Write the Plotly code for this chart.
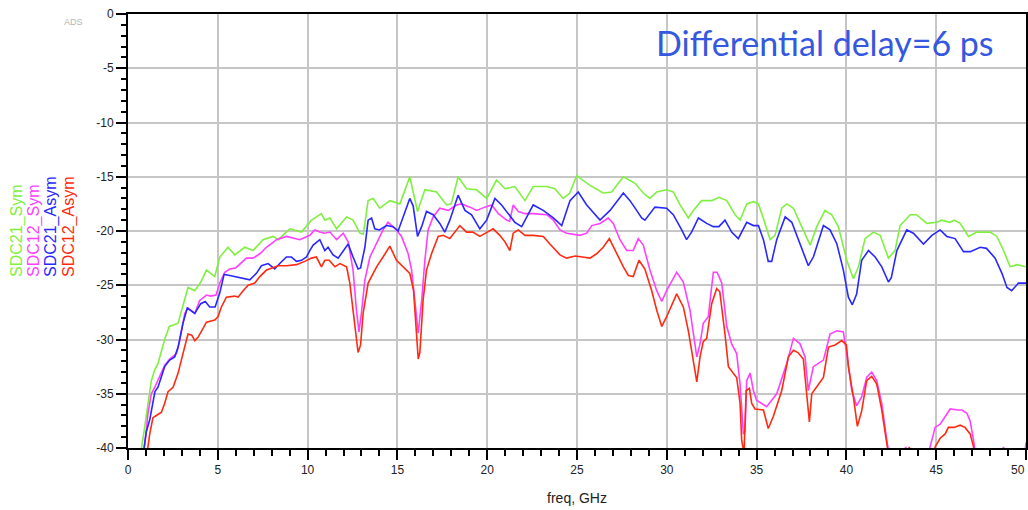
import plotly.graph_objects as go

# Mixed-mode conversion |SDC| in dB vs frequency (GHz); values below -40 dB run off the plot floor
sdc21_sym_f = [0.5, 0.75, 0.9, 1.11, 1.3, 1.49, 1.67, 2.04, 2.3, 2.79, 3.06, 3.34, 3.72, 4.05, 4.37, 4.83,
               5.11, 5.57, 5.94, 6.5, 6.96, 7.52, 8.08, 8.36, 9.01, 9.66, 10.22, 10.77, 10.96, 11.24, 11.61,
               12.17, 12.53, 12.91, 13.1, 13.37, 13.65, 14.02, 14.58, 15.14, 15.69, 16.12, 16.53, 17.18,
               17.74, 18.0, 18.38, 18.85, 19.41, 19.97, 20.52, 20.99, 21.54, 22.1, 22.56, 23.31, 23.77,
               24.23, 24.6, 24.98, 25.72, 26.46, 26.93, 27.58, 28.23, 28.69, 29.06, 29.44, 29.99, 30.36,
               30.74, 31.2, 31.48, 31.94, 32.5, 32.9, 33.34, 33.8, 34.08, 34.45, 34.82, 35.1, 35.47, 35.75,
               36.03, 36.4, 36.68, 37.05, 37.51, 37.98, 38.35, 38.81, 39.18, 39.55, 40.02, 40.39, 40.67,
               41.04, 41.5, 41.88, 42.34, 42.71, 42.99, 43.55, 43.9, 44.48, 45.04, 45.3, 45.78, 46.0, 46.33,
               46.8, 47.26, 48.0, 48.38, 48.75, 49.12, 49.5, 50.0]
sdc21_sym_db = [-45, -40.0, -38.4, -35.9, -33.8, -32.8, -32.2, -30.0, -28.8, -28.5, -26.8, -25.2, -25.5, -24.7,
                -23.6, -24.2, -22.4, -21.5, -22.2, -21.5, -21.8, -20.8, -20.5, -20.8, -19.8, -20.1, -19.0,
                -18.4, -19.0, -18.8, -19.8, -18.7, -19.0, -20.2, -20.3, -17.2, -17.0, -17.9, -17.2, -17.5,
                -15.0, -18.2, -16.2, -16.4, -17.6, -17.5, -15.0, -16.1, -16.2, -17.0, -15.3, -16.1, -15.9,
                -17.2, -15.9, -15.9, -16.1, -17.0, -16.5, -14.9, -15.8, -16.5, -16.4, -15.0, -15.6, -16.5,
                -17.0, -16.4, -16.2, -16.4, -17.6, -18.8, -18.1, -17.2, -17.2, -16.9, -17.2, -18.5, -19.0,
                -17.5, -17.3, -17.5, -19.3, -20.8, -20.4, -17.9, -17.5, -17.9, -19.6, -21.3, -19.6, -18.1,
                -18.5, -19.6, -22.7, -24.4, -23.3, -20.7, -20.1, -20.4, -22.5, -21.8, -19.5, -18.5, -18.5,
                -19.3, -19.2, -19.0, -19.2, -19.0, -19.3, -20.5, -20.1, -20.1, -20.5, -21.8, -23.3, -23.1,
                -23.3]

sdc12_sym_f = [0.5, 0.93, 1.02, 1.11, 1.3, 1.49, 1.86, 2.04, 2.32, 2.7, 2.88, 3.16, 3.34, 3.72, 3.99, 4.37,
               4.6, 4.9, 5.11, 5.39, 5.67, 6.0, 6.59, 6.96, 7.34, 7.71, 8.27, 8.82, 9.57, 10.12, 10.4, 10.68,
               10.96, 11.24, 11.61, 11.98, 12.26, 12.53, 12.72, 12.86, 13.0, 13.19, 13.47, 13.84, 14.2,
               14.48, 14.7, 14.95, 15.23, 15.6, 15.79, 15.97, 16.16, 16.35, 16.53, 16.71, 16.99, 17.36,
               17.83, 18.29, 18.57, 19.04, 19.41, 19.87, 20.25, 20.62, 21.08, 21.25, 21.45, 21.73, 22.1,
               22.56, 23.31, 23.68, 24.05, 24.42, 25.16, 25.54, 25.82, 26.28, 26.74, 27.02, 27.39, 27.77,
               28.13, 28.41, 28.69, 29.06, 29.44, 29.72, 29.99, 30.55, 30.92, 31.29, 31.67, 31.85, 32.03,
               32.31, 32.59, 32.8, 33.06, 33.34, 33.61, 33.89, 34.08, 34.26, 34.35, 34.45, 34.64, 34.82,
               35.0, 35.56, 36.12, 36.68, 37.05, 37.42, 37.7, 37.88, 38.16, 38.72, 39.09, 39.47, 39.83,
               40.02, 40.3, 40.57, 40.85, 41.13, 41.41, 41.69, 41.97, 42.25, 42.5, 43.0, 43.3, 43.6, 44.4,
               44.66, 44.94, 45.22, 45.5, 45.78, 46.2, 46.43, 46.71, 46.89, 47.08, 47.3, 48.5, 48.75, 49.0,
               49.85, 50.0]
sdc12_sym_db = [-45, -39.9, -38.4, -36.8, -35.0, -34.4, -33.1, -32.4, -31.8, -31.3, -30.1, -27.6, -27.1,
                -27.6, -26.4, -25.9, -26.0, -25.9, -24.8, -23.8, -23.5, -23.4, -22.5, -22.5, -22.1, -21.5,
                -20.8, -20.5, -20.8, -20.4, -19.9, -20.1, -20.2, -20.1, -20.8, -20.2, -21.0, -23.6, -27.3,
                -29.3, -27.5, -24.5, -22.4, -21.2, -19.9, -19.2, -19.5, -19.9, -20.5, -22.1, -23.6, -26.4,
                -29.4, -26.4, -22.7, -19.9, -18.7, -17.9, -18.1, -17.6, -17.5, -17.8, -18.1, -17.8, -17.6,
                -18.4, -19.0, -19.1, -17.6, -18.2, -18.4, -18.4, -18.5, -19.0, -19.9, -20.2, -20.4, -20.2,
                -19.5, -19.3, -18.8, -19.3, -20.8, -21.8, -21.8, -20.7, -21.3, -23.6, -25.5, -26.5, -25.5,
                -23.8, -24.7, -27.3, -31.6, -30.4, -28.5, -27.9, -23.8, -23.8, -24.8, -28.8, -30.4, -31.3,
                -34.1, -38.7, -38.5, -33.8, -33.1, -34.7, -35.6, -36.2, -35.0, -32.2, -29.9, -30.4, -31.6,
                -34.7, -32.5, -31.9, -29.5, -29.2, -29.3, -31.3, -34.7, -36.1, -35.3, -33.5, -33.0, -33.8,
                -35.9, -39.3, -42, -42, -39.9, -42, -42, -39.9, -38.1, -37.8, -37.1, -36.4, -36.5, -36.5,
                -36.8, -37.5, -39.3, -42, -42, -39.9, -42, -42, -39.5]

sdc21_asym_f = [0.5, 0.93, 1.02, 1.21, 1.39, 1.5, 1.67, 2.04, 2.32, 2.6, 2.79, 3.06, 3.3, 3.72, 4.05, 4.3,
                4.55, 4.85, 5.11, 5.35, 5.67, 5.94, 6.5, 6.78, 7.15, 7.43, 7.8, 8.17, 8.45, 8.82, 9.1, 9.38,
                9.66, 9.94, 10.12, 10.31, 10.68, 10.96, 11.14, 11.42, 11.7, 11.98, 12.26, 12.53, 12.81,
                12.95, 13.19, 13.37, 13.56, 13.74, 14.0, 14.39, 14.76, 15.04, 15.37, 15.69, 15.88, 16.12,
                16.35, 16.62, 16.99, 17.36, 17.64, 17.92, 18.38, 18.76, 19.13, 19.59, 19.97, 20.43, 20.8,
                21.17, 21.54, 21.92, 22.19, 22.56, 23.12, 23.68, 24.15, 24.61, 25.07, 25.54, 26.28, 26.84,
                27.58, 27.95, 28.32, 28.6, 28.78, 29.34, 29.99, 30.36, 30.83, 31.1, 31.38, 31.76, 32.22,
                32.59, 32.9, 33.24, 33.61, 33.98, 34.45, 34.82, 35.1, 35.38, 35.65, 35.84, 36.12, 36.59,
                36.96, 37.42, 37.88, 38.16, 38.72, 39.09, 39.47, 39.83, 40.11, 40.33, 40.57, 40.85, 41.23,
                41.6, 41.97, 42.34, 42.5, 42.81, 43.36, 43.73, 44.29, 44.76, 45.22, 45.59, 46.05, 46.52,
                46.9, 47.45, 47.8, 48.28, 48.66, 48.94, 49.2, 49.58, 50.0]
sdc21_asym_db = [-45, -40.0, -38.5, -37.4, -35.6, -34.8, -34.4, -32.5, -31.9, -31.6, -30.7, -28.5, -27.1,
                 -27.6, -26.7, -26.5, -27.0, -27.0, -25.7, -24.0, -24.1, -24.2, -24.4, -24.5, -23.9, -23.2,
                 -23.0, -23.5, -23.0, -22.4, -22.4, -22.8, -22.7, -22.4, -21.8, -21.3, -20.8, -21.8, -21.5,
                 -22.2, -22.5, -21.8, -21.2, -22.4, -23.5, -23.4, -21.5, -19.0, -18.8, -19.8, -19.9, -19.5,
                 -19.6, -20.0, -18.5, -17.0, -17.7, -20.5, -19.6, -18.2, -18.5, -19.3, -20.1, -19.0, -16.7,
                 -18.1, -18.5, -19.8, -19.0, -17.0, -17.6, -18.4, -19.2, -19.6, -18.8, -17.6, -18.1, -18.8,
                 -19.5, -17.2, -16.4, -17.6, -19.0, -18.1, -16.5, -17.2, -18.1, -18.8, -19.0, -17.8, -17.9,
                 -18.5, -19.9, -20.8, -20.1, -18.8, -19.3, -19.6, -19.6, -19.0, -20.1, -20.7, -19.2, -19.5,
                 -19.5, -20.8, -22.8, -22.8, -20.8, -18.7, -19.2, -21.2, -23.2, -22.4, -19.5, -19.9, -21.2,
                 -23.6, -26.1, -26.8, -25.8, -22.7, -21.8, -22.4, -23.3, -24.7, -24.3, -21.8, -19.9, -20.2,
                 -21.2, -20.4, -19.9, -20.5, -20.7, -21.9, -21.9, -21.5, -21.6, -22.5, -23.9, -25.2, -25.5,
                 -24.8, -24.8]

sdc12_asym_f = [0.5, 1.11, 1.21, 1.39, 1.58, 1.86, 2.04, 2.23, 2.51, 2.79, 2.97, 3.16, 3.34, 3.55, 3.72,
                3.9, 4.18, 4.37, 4.83, 5.01, 5.2, 5.48, 5.94, 6.13, 6.41, 6.69, 7.06, 7.34, 7.71, 8.36, 8.82,
                9.38, 9.84, 10.22, 10.49, 10.77, 10.96, 11.2, 11.52, 11.8, 12.17, 12.35, 12.53, 12.72, 12.81,
                12.95, 13.09, 13.37, 13.84, 14.2, 14.58, 14.95, 15.32, 15.69, 15.9, 16.0, 16.16, 16.25,
                16.43, 16.62, 16.9, 17.27, 17.55, 17.92, 18.48, 18.85, 19.2, 19.59, 19.97, 20.33, 20.7,
                20.99, 21.26, 21.45, 21.73, 22.1, 22.56, 23.12, 23.49, 24.05, 24.42, 24.9, 25.3, 25.72,
                26.09, 26.46, 26.8, 27.21, 27.58, 27.86, 28.13, 28.45, 28.78, 29.16, 29.44, 29.72, 29.99,
                30.55, 30.92, 31.2, 31.48, 31.67, 31.85, 32.03, 32.22, 32.5, 32.78, 32.95, 33.24, 33.43,
                33.7, 33.89, 34.08, 34.17, 34.3, 34.42, 34.6, 34.73, 34.91, 35.38, 35.65, 35.93, 36.4,
                36.77, 37.05, 37.3, 37.6, 37.79, 37.94, 38.07, 38.35, 38.72, 39.0, 39.37, 39.74, 40.0,
                40.11, 40.39, 40.61, 40.85, 41.13, 41.41, 41.69, 41.97, 42.25, 42.5, 43.3, 43.5, 43.7,
                44.7, 44.94, 45.22, 45.5, 45.68, 46.0, 46.33, 46.6, 46.89, 47.08, 47.3, 50.0]
sdc12_asym_db = [-45, -39.9, -38.7, -37.2, -37.0, -36.7, -35.9, -34.8, -34.4, -33.1, -31.9, -30.7, -29.5,
                 -29.6, -30.1, -29.8, -29.0, -28.4, -28.2, -27.9, -27.0, -26.1, -26.0, -26.1, -25.5, -25.0,
                 -24.8, -24.2, -23.6, -23.2, -23.2, -23.1, -22.8, -22.5, -22.4, -23.3, -22.7, -22.7, -23.3,
                 -23.0, -23.3, -24.8, -27.3, -29.8, -31.2, -30.5, -27.6, -24.8, -23.3, -22.4, -21.4, -22.7,
                 -23.3, -23.9, -25.5, -28.2, -31.8, -31.2, -26.4, -23.6, -22.1, -20.5, -20.4, -20.7, -19.5,
                 -20.1, -20.1, -20.5, -20.1, -19.8, -20.4, -21.0, -21.8, -20.2, -19.9, -20.4, -20.4, -20.5,
                 -21.2, -22.2, -22.5, -22.3, -22.4, -22.5, -22.1, -21.5, -20.7, -22.1, -23.3, -24.1, -24.2,
                 -22.7, -23.5, -25.5, -27.3, -28.8, -27.9, -25.8, -27.0, -29.2, -31.9, -33.9, -31.6, -30.2,
                 -29.9, -26.7, -25.3, -25.6, -29.5, -32.5, -33.1, -33.5, -35.9, -39.3, -40.5, -34.7, -34.5,
                 -35.9, -36.4, -36.5, -38.2, -37.1, -34.7, -31.6, -31.0, -31.2, -31.8, -34.7, -37.6, -35.0,
                 -34.4, -33.5, -30.7, -30.5, -30.1, -30.5, -32.5, -35.3, -38.0, -36.6, -33.8, -33.4, -34.1,
                 -36.5, -39.6, -42, -42, -39.9, -42, -42, -39.9, -39.1, -38.7, -38.1, -38.1, -37.9, -38.1,
                 -38.7, -39.9, -42, -42]

series_names = ["SDC21_Sym", "SDC12_Sym", "SDC21_Asym", "SDC12_Asym"]
series_colors = ["#80f040", "#ff40ff", "#2828ff", "#ff2a10"]
series_f = [sdc21_sym_f, sdc12_sym_f, sdc21_asym_f, sdc12_asym_f]
series_db = [sdc21_sym_db, sdc12_sym_db, sdc21_asym_db, sdc12_asym_db]

x_ticks = list(range(0, 51, 5))
y_ticks = list(range(-40, 1, 5))

W, H = 1028, 510
ML, MR, MT, MB = 128, 2, 14, 62
PW, PH = W - ML - MR, H - MT - MB


def px(x):
    return (x - ML) / PW


def py(y):
    return (H - MB - y) / PH


fig = go.Figure()
for name, color, f, db in zip(series_names, series_colors, series_f, series_db):
    fig.add_trace(go.Scatter(x=f, y=db, mode="lines", name=name,
                             line=dict(color=color, width=1.6), showlegend=False))

label_family = "Liberation Sans, Arial, sans-serif"
axis_font = dict(family=label_family, size=12, color="#222222")
common = dict(showline=True, linecolor="black", linewidth=2, mirror=True,
              showgrid=True, gridcolor="#c6c6c6", gridwidth=1.5, zeroline=False,
              ticks="outside", ticklen=10, tickwidth=1.5, tickcolor="black",
              tickfont=axis_font, automargin=False)

# the last x label sits flush against the right edge, so it is placed separately
x_ticktext = [str(v) for v in x_ticks[:-1]] + [""]
fig.update_xaxes(range=[0, 50], tickvals=x_ticks, ticktext=x_ticktext,
                 minor=dict(dtick=1, ticks="outside", ticklen=6, tickwidth=1.5,
                            tickcolor="black", showgrid=False),
                 title=dict(text="freq, GHz", standoff=17,
                            font=dict(family=label_family, size=14, color="#222222")),
                 **common)
fig.update_yaxes(range=[-40, 0], tickvals=y_ticks, ticktext=[str(v) for v in y_ticks],
                 minor=dict(dtick=1, ticks="outside", ticklen=5, tickwidth=1.5,
                            tickcolor="black", showgrid=False),
                 **common)

annotations = [
    dict(text="Differential delay=6 ps", x=px(825), y=py(42), xref="paper", yref="paper",
         showarrow=False, xanchor="center", yanchor="middle",
         font=dict(family="Lato, Carlito, sans-serif", size=34, color="#3558e0")),
    dict(text="ADS", x=px(73), y=py(22), xref="paper", yref="paper", showarrow=False,
         xanchor="center", yanchor="middle",
         font=dict(family=label_family, size=9, color="#b4b4b4")),
    dict(text=str(x_ticks[-1]), x=px(1027), y=py(470), xref="paper", yref="paper",
         showarrow=False, xanchor="right", yanchor="middle", font=axis_font),
]
legend_x = [17, 34, 51, 69]
for name, color, lx in zip(series_names, series_colors, legend_x):
    annotations.append(dict(text=name, x=px(lx), y=py(279), xref="paper", yref="paper",
                            showarrow=False, textangle=-90, xanchor="center", yanchor="bottom",
                            font=dict(family=label_family, size=16, color=color)))

fig.update_layout(width=W, height=H, margin=dict(l=ML, r=MR, t=MT, b=MB),
                  paper_bgcolor="white", plot_bgcolor="white", annotations=annotations,
                  showlegend=False)

fig.write_html("out.html")
